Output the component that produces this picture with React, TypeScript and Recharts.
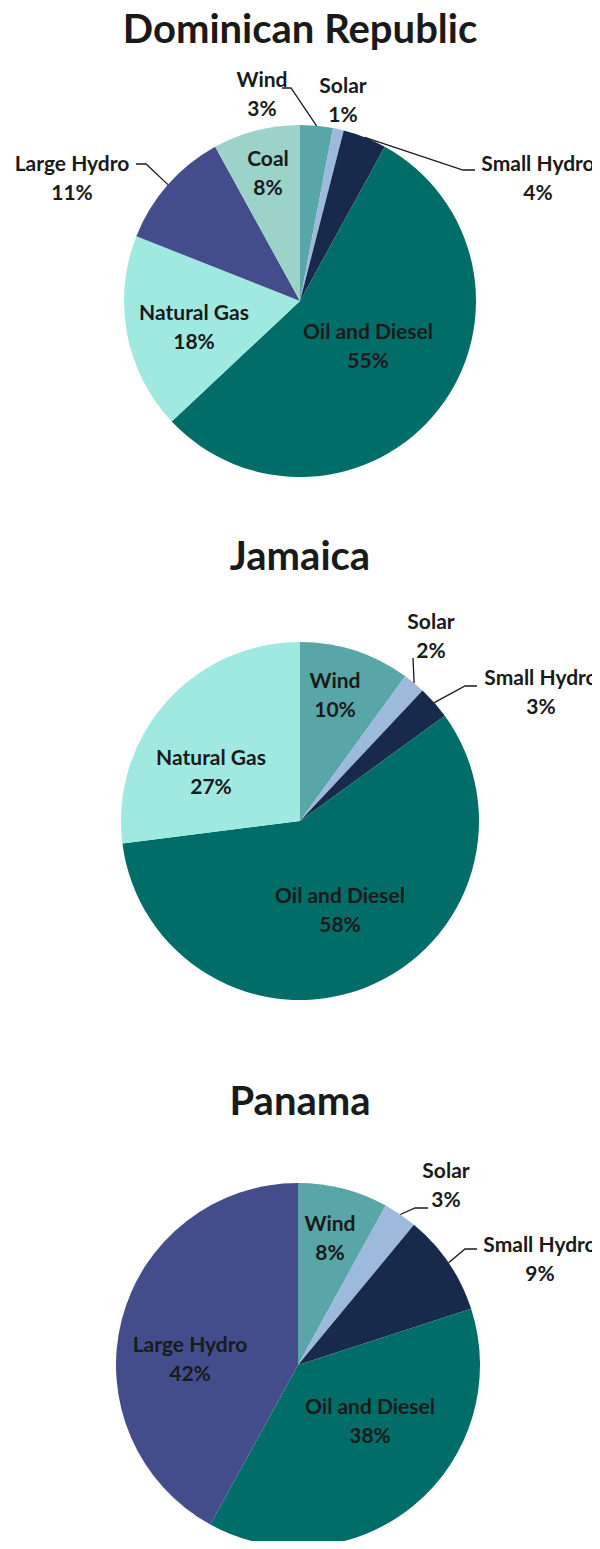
import { Pie, PieChart, Cell } from "recharts"

const drNames = ["Wind", "Solar", "Small Hydro", "Oil and Diesel", "Natural Gas", "Large Hydro", "Coal"]
const drValues = [3, 1, 4, 55, 18, 11, 8]

const jmNames = ["Wind", "Solar", "Small Hydro", "Oil and Diesel", "Natural Gas"]
const jmValues = [10, 2, 3, 58, 27]

const paNames = ["Wind", "Solar", "Small Hydro", "Oil and Diesel", "Large Hydro"]
const paValues = [8, 3, 9, 38, 42]

const titles = ["Dominican Republic", "Jamaica", "Panama"]

const colors: Record<string, string> = {
  Wind: "#58a6a7",
  Solar: "#9db9db",
  "Small Hydro": "#172a4b",
  "Oil and Diesel": "#006d68",
  "Natural Gas": "#a0e9e1",
  "Large Hydro": "#434d8b",
  Coal: "#9bd3c8",
}

const FONT = "Lato, 'Open Sans', sans-serif"

type Place = { x: number; y: number; line?: [number, number][] }

// label spots relative to pie centre, like Excel's manually dragged labels
const drPlaces: Record<string, Place> = {
  Wind: { x: -38, y: -207, line: [[-9, -213], [-18, -213]] },
  Solar: { x: 43, y: -201 },
  "Small Hydro": { x: 238, y: -123, line: [[163, -131], [175, -131]] },
  "Oil and Diesel": { x: 68, y: 45 },
  "Natural Gas": { x: -106, y: 26 },
  "Large Hydro": { x: -228, y: -123, line: [[-154, -137], [-164, -137]] },
  Coal: { x: -32, y: -128 },
}
const jmPlaces: Record<string, Place> = {
  Wind: { x: 35, y: -126 },
  Solar: { x: 131, y: -185, line: [[113, -163], [113, -163]] },
  "Small Hydro": { x: 241, y: -129, line: [[165, -135], [177, -135]] },
  "Oil and Diesel": { x: 40, y: 89 },
  "Natural Gas": { x: -89, y: -49 },
}
const paPlaces: Record<string, Place> = {
  Wind: { x: 32, y: -127 },
  Solar: { x: 148, y: -180, line: [[117, -157], [130, -157]] },
  "Small Hydro": { x: 242, y: -106, line: [[167, -116], [179, -116]] },
  "Oil and Diesel": { x: 72, y: 56 },
  "Large Hydro": { x: -108, y: -6 },
}

const RAD = Math.PI / 180

function makeLabel(places: Record<string, Place>) {
  return (props: any) => {
    const { cx, cy, midAngle, outerRadius, name, value } = props
    const p = places[name]
    if (!p) return null
    const tx = cx + p.x
    const ty = cy + p.y
    let line = null
    if (p.line) {
      const ax = cx + outerRadius * Math.cos(-midAngle * RAD)
      const ay = cy + outerRadius * Math.sin(-midAngle * RAD)
      const pts = [[ax, ay], ...p.line.map(([dx, dy]) => [cx + dx, cy + dy])]
      line = <polyline points={pts.map((q) => q.join(",")).join(" ")} fill="none" stroke="#1a1a1a" strokeWidth={1.3} />
    }
    return (
      <g>
        {line}
        <text x={tx} y={ty} textAnchor="middle" fill="#1a1a1a" fontFamily={FONT} fontWeight={700} fontSize={21}>
          <tspan x={tx} dy={-7}>{name}</tspan>
          <tspan x={tx} dy={29}>{`${value}%`}</tspan>
        </text>
      </g>
    )
  }
}

const toRows = (names: string[], values: number[]) => names.map((name, i) => ({ name, value: values[i] }))

const pies = [
  { data: toRows(drNames, drValues), cx: 300, cy: 301, r: 176, places: drPlaces, titleY: 28 },
  { data: toRows(jmNames, jmValues), cx: 300, cy: 821, r: 179, places: jmPlaces, titleY: 555 },
  { data: toRows(paNames, paValues), cx: 298, cy: 1365, r: 182, places: paPlaces, titleY: 1100 },
]

export default function App() {
  return (
    <div style={{ position: "relative", width: 600, height: 1549, margin: -8, background: "#fff", overflow: "hidden" }}>
      <PieChart width={600} height={1549} margin={{ top: 0, right: 0, bottom: 0, left: 0 }}>
        {pies.map((p, k) => (
          <Pie
            key={k}
            data={p.data}
            dataKey="value"
            nameKey="name"
            cx={p.cx}
            cy={p.cy}
            outerRadius={p.r}
            startAngle={90}
            endAngle={-270}
            stroke="none"
            label={makeLabel(p.places)}
            labelLine={false}
            isAnimationActive={false}
          >
            {p.data.map((d) => (
              <Cell key={d.name} fill={colors[d.name]} />
            ))}
          </Pie>
        ))}
      </PieChart>
      {pies.map((p, k) => (
        <div
          key={k}
          style={{
            position: "absolute",
            left: 0,
            width: 600,
            top: p.titleY - 24,
            textAlign: "center",
            fontFamily: FONT,
            fontWeight: 700,
            fontSize: 40,
            lineHeight: "48px",
            color: "#1a1a1a",
          }}
        >
          {titles[k]}
        </div>
      ))}
    </div>
  )
}
